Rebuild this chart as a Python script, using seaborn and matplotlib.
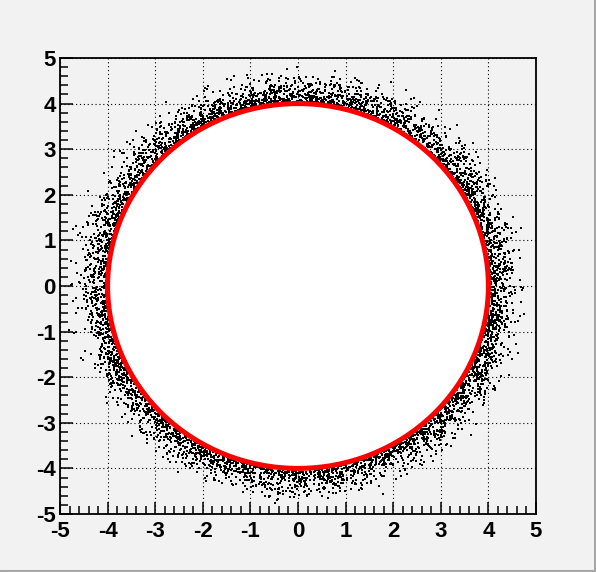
import numpy as np
import pandas as pd
import matplotlib
matplotlib.use("Agg")
import matplotlib.pyplot as plt
from matplotlib.patches import Circle
from matplotlib.lines import Line2D
from matplotlib.ticker import MultipleLocator
import seaborn as sns

# --- data ---
circle_radius = 4.0
# radial bands outside the circle and roughly how many dots fall in each
band_edges = [4.0, 4.1, 4.2, 4.3, 4.4, 4.5, 4.6, 4.7, 4.8, 4.9]
band_counts = [1500, 1300, 1000, 700, 450, 260, 130, 60, 20]
axis_ticks = [-5, -4, -3, -2, -1, 0, 1, 2, 3, 4, 5]

# scatter the dots inside each band (the cloud itself can't be read dot by dot)
rng = np.random.default_rng(7)
rows = []
for lo, hi, n in zip(band_edges[:-1], band_edges[1:], band_counts):
    r = rng.uniform(lo, hi, n)
    phi = rng.uniform(0, 2 * np.pi, n)
    rows.append(pd.DataFrame({"x": r * np.cos(phi), "y": r * np.sin(phi)}))
df = pd.concat(rows, ignore_index=True)

sns.set_style("ticks")
plt.rcParams["font.family"] = ["Liberation Sans", "DejaVu Sans"]
plt.rcParams["font.weight"] = "bold"
plt.rcParams["axes.unicode_minus"] = False

bg = "#f2f2f2"
fig = plt.figure(figsize=(5.96, 5.72), dpi=100, facecolor=bg)
ax = fig.add_axes([60 / 596, 1 - 514 / 572, 476 / 596, 456 / 572])
ax.set_facecolor(bg)

ax.grid(True, which="major", color="black", linestyle=(0, (1, 2.5)), linewidth=0.8)
ax.set_axisbelow(True)

sns.scatterplot(data=df, x="x", y="y", ax=ax, marker="s", s=0.55,
                color="black", linewidth=0, zorder=2)

ax.add_patch(Circle((0, 0), circle_radius, facecolor="white",
                    edgecolor="#ff0000", linewidth=3.6, zorder=3))

ax.set_xlim(-5, 5)
ax.set_ylim(-5, 5)
ax.set_xticks(axis_ticks)
ax.set_yticks(axis_ticks)
ax.set_xticklabels([str(t) for t in axis_ticks], fontweight="bold", fontsize=16)
ax.set_yticklabels([str(t) for t in axis_ticks], fontweight="bold", fontsize=16)
ax.xaxis.set_minor_locator(MultipleLocator(0.2))
ax.yaxis.set_minor_locator(MultipleLocator(0.2))
ax.tick_params(which="major", direction="in", length=9, width=1.1,
               color="black", labelcolor="black", top=False, right=False)
ax.tick_params(axis="x", which="major", pad=5)
ax.tick_params(axis="y", which="major", pad=3)
ax.tick_params(which="minor", direction="in", length=6, width=1.1,
               color="black", top=False, right=False)
ax.set_xlabel("")
ax.set_ylabel("")
for s in ax.spines.values():
    s.set_linewidth(1.3)
    s.set_color("black")
    s.set_zorder(5)

# canvas bevel (right and bottom edges darker)
fig.add_artist(Line2D([0, 1], [1.5 / 572, 1.5 / 572], color="#a6a6a6",
                      linewidth=2.2, transform=fig.transFigure))
fig.add_artist(Line2D([1 - 1.5 / 596, 1 - 1.5 / 596], [0, 1], color="#a6a6a6",
                      linewidth=2.2, transform=fig.transFigure))

fig.savefig("out.png", dpi=100, facecolor=bg)
